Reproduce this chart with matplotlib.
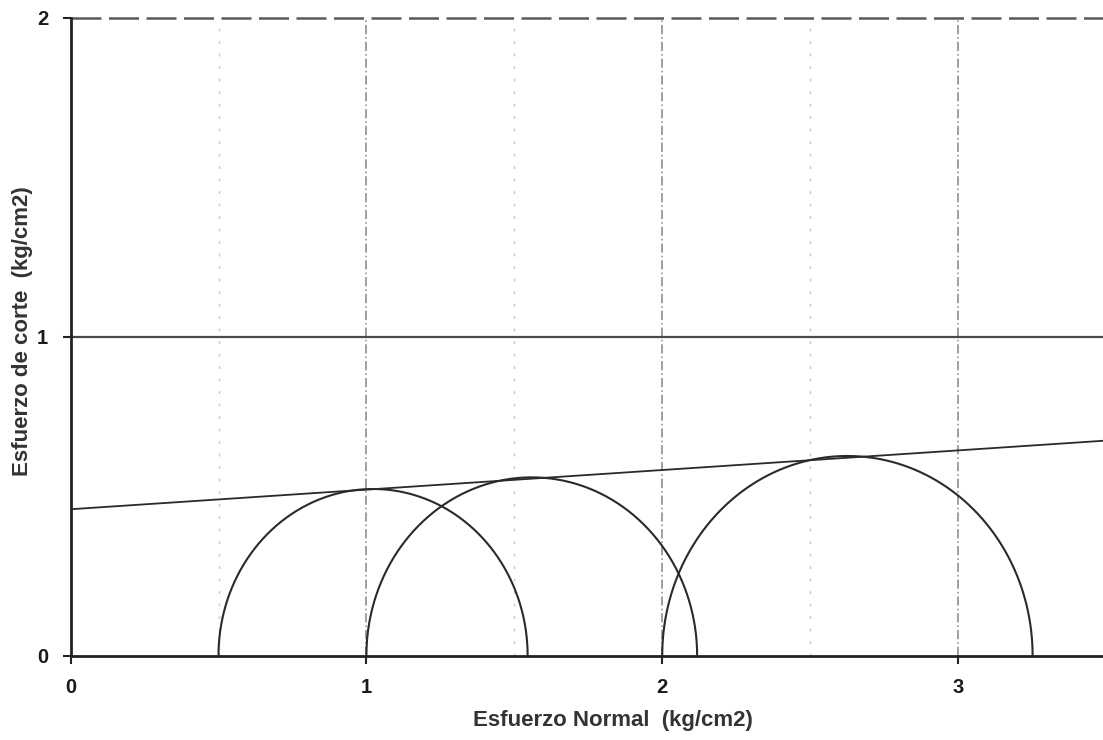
import numpy as np
import matplotlib
matplotlib.use("Agg")
import matplotlib.pyplot as plt

# Mohr circles (sigma3, sigma1) in kg/cm2
sigma3 = [0.50, 1.00, 2.00]
sigma1 = [1.545, 2.118, 3.252]
# Failure envelope: cohesion and slope
cohesion = 0.459
slope = 0.0615
x_ticks = [0, 1, 2, 3]
y_ticks = [0, 1, 2]

plt.rcParams['font.family'] = ['Liberation Sans', 'DejaVu Sans']

fig = plt.figure(figsize=(11.03, 7.40), dpi=100)
ax = fig.add_axes([0.064, 0.114, 0.936, 0.862])
x_max = 3.49
ax.set_xlim(0, x_max)
ax.set_ylim(0, 2)

# grid lines
for xv in [0.5, 1.5, 2.5]:
    ax.axvline(xv, color='#c4c4c4', lw=1.0, ls=(0, (2, 7)), zorder=1)
for xv in [1, 2, 3]:
    ax.axvline(xv, color='#858585', lw=1.1, ls=(0, (6, 2, 1, 2)), zorder=1)
ax.axhline(1, color='#4a4a4a', lw=1.6, ls='-', zorder=1)
ax.axhline(2, color='#5a5a5a', lw=1.8, ls=(0, (12, 3)), zorder=1, clip_on=False)

# Mohr circles (upper halves)
t = np.linspace(0, np.pi, 400)
for s3, s1 in zip(sigma3, sigma1):
    c = (s1 + s3) / 2
    r = (s1 - s3) / 2
    ax.plot(c + r * np.cos(t), r * np.sin(t), color='#2a2a2a', lw=1.5, zorder=3)

# envelope
xe = np.array([0, x_max])
ax.plot(xe, cohesion + slope * xe, color='#2a2a2a', lw=1.3, zorder=3)

for s in ['top', 'right']:
    ax.spines[s].set_visible(False)
for s in ['left', 'bottom']:
    ax.spines[s].set_color('#222222')
    ax.spines[s].set_linewidth(2.0)

ax.set_xticks(x_ticks)
ax.set_yticks(y_ticks)
ax.set_xticklabels([str(v) for v in x_ticks])
ax.set_yticklabels([str(v) for v in y_ticks])
ax.tick_params(axis='both', direction='out', length=6, width=1.5, colors='#222222',
               labelsize=14.5, pad=10)
for lab in ax.get_xticklabels() + ax.get_yticklabels():
    lab.set_fontweight('bold')
    lab.set_color('#1a1a1a')

ax.set_xlabel('Esfuerzo Normal  (kg/cm2)', fontsize=16, fontweight='bold', color='#333333')
ax.xaxis.set_label_coords((613 - 70.7) / (1103 - 70.7), -0.086)
ax.set_ylabel('Esfuerzo de corte  (kg/cm2)', fontsize=16, fontweight='bold', color='#333333')
ax.yaxis.set_label_coords(-0.036, 0.509)

fig.savefig('out.png', dpi=100)
